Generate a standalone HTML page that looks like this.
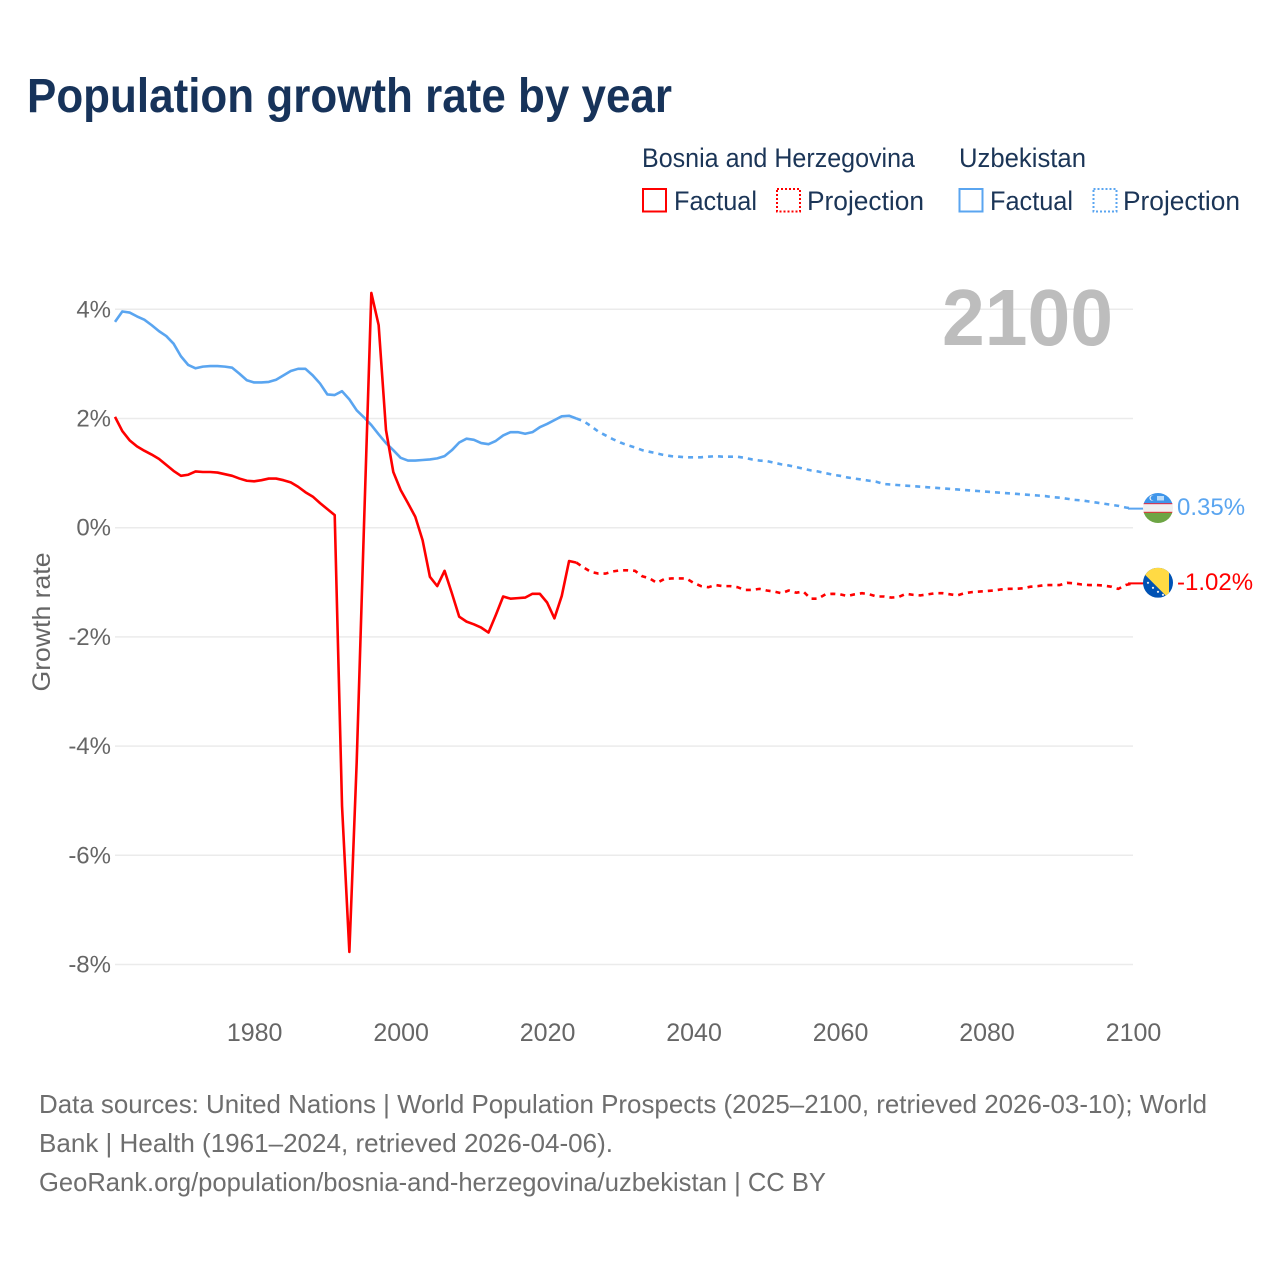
<!DOCTYPE html>
<html lang="en">
<head>
<meta charset="utf-8">
<title>Population growth rate by year</title>
<style>
html,body{margin:0;padding:0;background:#fff;}
svg{display:block;font-family:"Liberation Sans",sans-serif;}
</style>
</head>
<body>
<svg id="chart" xmlns="http://www.w3.org/2000/svg" width="1280" height="1280" viewBox="0 0 1280 1280">
  <defs>
    <clipPath id="flag-clip"><circle cx="0" cy="0" r="15"/></clipPath>
  </defs>
  <rect x="0" y="0" width="1280" height="1280" fill="#ffffff"/>
  <text x="27" y="112" font-size="48" font-weight="700" fill="#17335a" textLength="645" lengthAdjust="spacingAndGlyphs">Population growth rate by year</text>

  <g font-size="27" fill="#1b3557">
    <text x="642" y="167" textLength="273" lengthAdjust="spacingAndGlyphs">Bosnia and Herzegovina</text>
    <text x="959" y="167" textLength="127" lengthAdjust="spacingAndGlyphs">Uzbekistan</text>
    <rect x="643" y="189" width="23" height="22.500" fill="none" stroke="#ff0000" stroke-width="2"/>
    <text x="674" y="210" textLength="83" lengthAdjust="spacingAndGlyphs">Factual</text>
    <rect x="777" y="189" width="23" height="22.500" fill="none" stroke="#ff0000" stroke-width="2" stroke-dasharray="2 2"/>
    <text x="807" y="210" textLength="117" lengthAdjust="spacingAndGlyphs">Projection</text>
    <rect x="959.500" y="189" width="23" height="22.500" fill="none" stroke="#5aa5f0" stroke-width="2"/>
    <text x="990" y="210" textLength="83" lengthAdjust="spacingAndGlyphs">Factual</text>
    <rect x="1093.500" y="189" width="23" height="22.500" fill="none" stroke="#5aa5f0" stroke-width="2" stroke-dasharray="2 2"/>
    <text x="1123" y="210" textLength="117" lengthAdjust="spacingAndGlyphs">Projection</text>
  </g>

  <g id="grid"></g>
  <g id="y-ticks" font-size="24" fill="#666666" text-anchor="end"></g>
  <g id="x-ticks" font-size="25" fill="#666666" text-anchor="middle"></g>
  <text transform="translate(50,622) rotate(-90)" text-anchor="middle" font-size="25" fill="#666666" textLength="139" lengthAdjust="spacingAndGlyphs">Growth rate</text>
  <text x="942" y="345" font-size="80" font-weight="700" fill="#bdbdbd" textLength="171" lengthAdjust="spacingAndGlyphs">2100</text>

  <g id="series"></g>

  <g id="flag-uzbekistan">
    <g clip-path="url(#flag-clip)">
      <rect x="-15" y="-15" width="30" height="11" fill="#3e95ea"/>
      <rect x="-15" y="-4" width="30" height="8" fill="#f0f0f0"/>
      <rect x="-15" y="4.500" width="30" height="11" fill="#6da544"/>
      <rect x="-15" y="-4.800" width="30" height="1" fill="#e8283c"/>
      <rect x="-15" y="3.800" width="30" height="1" fill="#e8283c"/>
      <circle cx="-6" cy="-10" r="2.600" fill="#f0f0f0"/>
      <circle cx="-5" cy="-10" r="2.300" fill="#3e95ea"/>
      <rect x="-1" y="-12" width="7" height="4.500" fill="#bcdcf8"/>
    </g>
  </g>
  <g id="flag-bosnia">
    <g clip-path="url(#flag-clip)">
      <rect x="-15" y="-15" width="30" height="30" fill="#0052b4"/>
      <polygon points="-20,-15 11,-15 11,16" fill="#ffda44"/>
      <circle cx="-10" cy="0" r="1.100" fill="#f0f0f0"/>
      <circle cx="-5" cy="5" r="1.100" fill="#f0f0f0"/>
      <circle cx="0" cy="9" r="1.100" fill="#f0f0f0"/>
      <circle cx="5" cy="12" r="1.100" fill="#f0f0f0"/>
    </g>
  </g>
  <text id="value-uzbekistan" x="1177" font-size="24" fill="#5aa5f0"></text>
  <text id="value-bosnia" x="1177" font-size="24" fill="#ff0000"></text>

  <g font-size="26" fill="#6e6e6e">
    <text x="39" y="1113" textLength="1168" lengthAdjust="spacingAndGlyphs">Data sources: United Nations | World Population Prospects (2025–2100, retrieved 2026-03-10); World</text>
    <text x="39" y="1152" textLength="574" lengthAdjust="spacingAndGlyphs">Bank | Health (1961–2024, retrieved 2026-04-06).</text>
    <text x="39" y="1191" textLength="787" lengthAdjust="spacingAndGlyphs">GeoRank.org/population/bosnia-and-herzegovina/uzbekistan | CC BY</text>
  </g>
</svg>
<script>
const firstYear = 1961;
const firstProjectionYear = 2024;
const lastYear = 2100;
const xTickYears = [1980, 2000, 2020, 2040, 2060, 2080, 2100];
const yTickValues = [4, 2, 0, -2, -4, -6, -8];

const bosniaFactual = [
  2.03,1.77,1.60,1.49,1.41,1.34,1.26,1.15,1.04,0.95,
  0.97,1.03,1.02,1.02,1.01,0.98,0.95,0.90,0.86,0.85,
  0.87,0.90,0.90,0.87,0.83,0.75,0.65,0.57,0.45,0.34,
  0.23,-5.10,-7.77,-4.30,0.05,4.30,3.71,1.79,1.02,0.69,
  0.45,0.20,-0.23,-0.90,-1.07,-0.79,-1.20,-1.63,-1.72,-1.77,
  -1.83,-1.92,-1.60,-1.26,-1.30,-1.29,-1.28,-1.21,-1.21,-1.37,
  -1.66,-1.25,-0.61,-0.64
];
const uzbekistanFactual = [
  3.77,3.96,3.94,3.87,3.81,3.71,3.60,3.51,3.37,3.14,
  2.98,2.92,2.95,2.96,2.96,2.95,2.93,2.82,2.70,2.66,
  2.66,2.67,2.71,2.79,2.87,2.91,2.91,2.79,2.64,2.44,
  2.43,2.50,2.35,2.15,2.02,1.88,1.71,1.55,1.42,1.28,
  1.23,1.23,1.24,1.25,1.27,1.31,1.42,1.56,1.63,1.61,
  1.55,1.53,1.59,1.69,1.75,1.75,1.72,1.75,1.84,1.90,
  1.97,2.04,2.05,2.00
];
const bosniaProjection = [
  -0.64,-0.73,-0.81,-0.84,-0.84,-0.80,-0.78,-0.78,-0.79,-0.89,-0.93,
  -1.01,-0.94,-0.93,-0.93,-0.93,-1.01,-1.07,-1.09,-1.05,-1.07,
  -1.07,-1.09,-1.14,-1.14,-1.12,-1.15,-1.17,-1.20,-1.15,-1.19,
  -1.17,-1.30,-1.30,-1.22,-1.21,-1.22,-1.25,-1.22,-1.20,-1.22,
  -1.26,-1.26,-1.28,-1.27,-1.21,-1.23,-1.24,-1.22,-1.20,-1.20,
  -1.22,-1.24,-1.20,-1.18,-1.17,-1.16,-1.15,-1.13,-1.12,-1.12,
  -1.11,-1.08,-1.07,-1.05,-1.05,-1.05,-1.01,-1.02,-1.04,-1.05,
  -1.05,-1.06,-1.08,-1.12,-1.05,-1.02
];
const uzbekistanProjection = [
  2.00,1.95,1.86,1.76,1.69,1.62,1.56,1.51,1.47,1.42,1.39,
  1.36,1.33,1.31,1.30,1.29,1.29,1.29,1.30,1.31,1.30,
  1.30,1.30,1.28,1.25,1.23,1.22,1.19,1.16,1.14,1.11,
  1.08,1.05,1.03,1.00,0.97,0.95,0.92,0.90,0.88,0.86,
  0.84,0.80,0.79,0.78,0.77,0.76,0.75,0.74,0.73,0.72,
  0.71,0.70,0.69,0.68,0.67,0.66,0.65,0.64,0.63,0.62,
  0.61,0.60,0.59,0.58,0.56,0.55,0.53,0.51,0.50,0.48,
  0.46,0.44,0.42,0.40,0.37,0.35
];

const SVG_NS = 'http://www.w3.org/2000/svg';
const RED = '#ff0000';
const BLUE = '#5aa5f0';

function xScale(year) {
  return 115 + (year - firstYear) * (1133 - 115) / (lastYear - firstYear);
}
function yScale(value) {
  return 527.7 - value * 54.6;
}
function linePath(values, startYear) {
  return values.map(function (v, i) {
    return (i ? 'L' : 'M') + xScale(startYear + i).toFixed(2) + ' ' + yScale(v).toFixed(2);
  }).join(' ');
}
function make(tag, attrs) {
  const el = document.createElementNS(SVG_NS, tag);
  Object.keys(attrs).forEach(function (k) { el.setAttribute(k, attrs[k]); });
  return el;
}

const gridGroup = document.getElementById('grid');
const yTickGroup = document.getElementById('y-ticks');
yTickValues.forEach(function (v) {
  const line = make('line', {x1: xScale(firstYear), x2: xScale(lastYear), y1: yScale(v), y2: yScale(v), stroke: '#ebebeb', 'stroke-width': 1.5});
  
  
  gridGroup.appendChild(line);
  const label = make('text', {x: 111, y: yScale(v) + 8});
  
  
  label.textContent = v + '%';
  yTickGroup.appendChild(label);
});

const xTickGroup = document.getElementById('x-ticks');
xTickYears.forEach(function (year) {
  const label = make('text', {x: xScale(year) + 0.5, y: 1041});
  
  
  label.textContent = String(year);
  xTickGroup.appendChild(label);
});

const seriesGroup = document.getElementById('series');
function addLine(values, startYear, color, dashed, name) {
  const path = make('path', {d: linePath(values, startYear), fill: 'none', stroke: color, 'stroke-width': 2.6, 'stroke-linejoin': 'round'});
  if (dashed) { path.setAttribute('stroke-dasharray', '5 5'); }
  
  
  seriesGroup.appendChild(path);
}
addLine(uzbekistanFactual, firstYear, BLUE, false, 'uzbekistan-factual-line');
addLine(uzbekistanProjection, firstProjectionYear, BLUE, true, 'uzbekistan-projection-line');
addLine(bosniaFactual, firstYear, RED, false, 'bosnia-factual-line');
addLine(bosniaProjection, firstProjectionYear, RED, true, 'bosnia-projection-line');

function addEnd(values, color, flagId, labelId, name) {
  const last = values[values.length - 1];
  const y = yScale(last);
  const conn = make('line', {x1: xScale(lastYear) - 5, x2: 1145, y1: y, y2: y, stroke: color, 'stroke-width': 2});
  
  
  seriesGroup.appendChild(conn);
  document.getElementById(flagId).setAttribute('transform', 'translate(1158,' + (y - 0.6).toFixed(2) + ')');
  const label = document.getElementById(labelId);
  label.setAttribute('y', (y + 6.5).toFixed(2));
  label.textContent = last.toFixed(2) + '%';
}
addEnd(uzbekistanProjection, BLUE, 'flag-uzbekistan', 'value-uzbekistan', 'uzbekistan-end-connector');
addEnd(bosniaProjection, RED, 'flag-bosnia', 'value-bosnia', 'bosnia-end-connector');
</script>
</body>
</html>
